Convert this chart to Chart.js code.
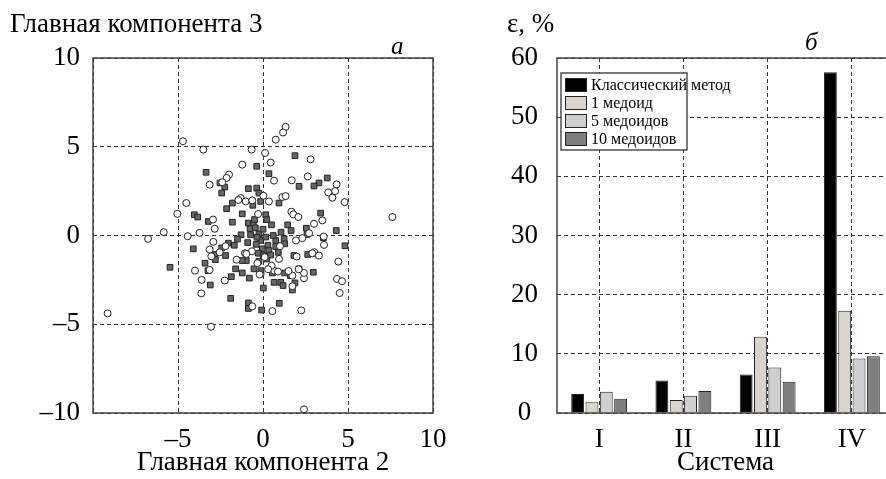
<!DOCTYPE html>
<html>
<head>
<meta charset="utf-8">
<script src="https://cdn.jsdelivr.net/npm/chart.js@4.4.0/dist/chart.umd.min.js"></script>
<style>
	body { margin: 0; background: #fff; width: 886px; height: 479px; position: relative; overflow: hidden; font-family: "Liberation Serif", serif; }
	canvas { position: absolute; top: 0; }
	.lbl { position: absolute; font-size: 27px; line-height: 25px; white-space: nowrap; color: #000; }
	.it { font-style: italic; font-size: 25px; }
</style>
</head>
<body>
<canvas id="scatter" width="450" height="479" style="left:0"></canvas>
<canvas id="bars" width="445" height="479" style="left:450px"></canvas>
<div class="lbl" style="left:10px;top:11px">Главная компонента 3</div>
<div class="lbl it" style="left:391px;top:33px">а</div>
<div class="lbl" style="left:507px;top:11px">ε, %</div>
<div class="lbl it" style="left:805px;top:29px">б</div>
<script>
// ================ data ================
// panel a: principal components 2 (x) and 3 (y)
const openPoints = [
	[1.33, 6.12], [1.18, 5.8], [0.75, 5.4], [-4.71, 5.31], [-3.51, 4.84], [-0.67, 4.84], [0.12, 4.65],
	[2.8, 4.29], [0.45, 4.11], [-1.22, 3.99], [-2.0, 3.43], [-2.14, 3.24], [-3.14, 2.86], [0.65, 3.09],
	[1.69, 3.11], [2.63, 3.33], [4.33, 2.88], [4.24, 2.5], [3.84, 2.43], [4.08, 2.13], [4.8, 1.88],
	[-1.31, 2.11], [-1.02, 1.92], [-0.63, 1.98], [0.02, 2.24], [0.35, 1.92], [1.14, 2.17], [1.33, 2.22],
	[-4.51, 1.83], [-5.04, 1.22], [-0.29, 1.21], [1.67, 1.34], [1.78, 1.19], [2.08, 1.04], [3.49, 0.85],
	[3.0, 0.66], [7.61, 1.04], [-2.94, 0.9], [-2.84, 0.38], [-3.73, 0.15], [-5.84, 0.19], [-4.43, -0.04],
	[-6.76, -0.19], [-2.92, -0.36], [-3.14, -0.79], [-2.2, -0.6], [-1.06, -1.0], [-1.55, -1.36], [-0.65, -0.89],
	[1.94, -0.28], [2.31, -0.15], [2.71, 0.13], [3.57, -0.06], [3.59, -0.53], [3.02, -0.94], [3.29, -1.13],
	[1.98, -1.19], [0.94, -1.32], [0.1, -1.22], [4.43, -1.47], [-4.0, -1.98], [-3.14, -1.94], [-3.61, -2.5],
	[-2.25, -2.54], [-3.63, -3.26], [-0.14, -2.17], [0.65, -1.98], [0.88, -2.03], [1.73, -2.26], [2.41, -2.41],
	[2.41, -2.11], [4.35, -2.45], [4.65, -2.58], [4.51, -3.24], [1.73, -2.86], [-0.63, -3.99], [0.55, -4.26],
	[2.25, -4.22], [-9.14, -4.39], [-3.06, -5.14], [2.41, -9.79], [-0.33, -1.56], [-3.04, -1.17], [-0.98, -1.04],
	[1.0, -0.6], [0.5, -1.7], [-2.4, 3.0], [2.1, -1.9], [-1.45, 2.0], [1.5, -2.0], [0.3, -1.9],
	[-0.2, -2.2], [2.9, -1.0], [-2.55, -0.95],
];
const filledPoints = [
	[1.88, 4.5], [-0.37, 3.9], [-3.35, 3.56], [0.35, 3.48], [-2.53, 2.96], [-2.25, 2.73], [-2.43, 2.39],
	[3.78, 3.24], [3.29, 2.96], [3.0, 2.79], [2.12, 2.77], [-0.86, 2.64], [-0.37, 2.67], [-0.24, 2.39],
	[-1.8, 1.83], [-2.14, 1.51], [-0.14, 1.92], [0.94, 1.83], [-1.22, 1.22], [0.16, 1.17], [0.22, 0.89],
	[-1.8, 0.75], [-4.04, 1.17], [-3.84, 1.04], [-3.22, 0.79], [-0.86, 0.7], [-0.57, 0.66], [-0.76, 0.38],
	[-0.45, 0.43], [3.39, 1.26], [2.55, 0.41], [2.59, 0.06], [1.65, 0.28], [1.06, 0.19], [4.31, 0.28],
	[3.55, -0.13], [4.82, -0.58], [-1.29, 0.04], [-0.73, 0.04], [-0.24, 0.09], [-0.14, -0.28], [0.16, -0.09],
	[0.75, -0.28], [1.24, -0.19], [1.27, -0.47], [0.29, -0.55], [-0.04, -0.75], [0.35, -0.85], [0.75, -0.62],
	[-2.04, -0.43], [-1.69, -0.55], [-2.43, -0.7], [-4.1, -0.75], [-2.84, -1.07], [-2.8, -1.36], [-2.2, -1.13],
	[-0.27, -1.0], [0.02, -1.13], [-0.24, -1.45], [0.22, -1.32], [-0.98, -1.41], [-1.22, -1.41], [-0.53, -1.88],
	[-0.12, -1.98], [-1.61, -1.88], [-1.22, -2.11], [-1.86, -2.32], [-3.41, -1.56], [-3.24, -1.98], [-5.47, -1.79],
	[-3.1, -2.79], [0.55, -2.11], [1.27, -2.11], [1.61, -2.26], [2.12, -1.88], [2.96, -2.07], [1.82, -1.13],
	[2.63, -1.07], [0.65, -2.64], [1.04, -2.64], [1.18, -2.82], [1.88, -2.67], [1.73, -3.07], [0.02, -2.96],
	[-1.9, -3.54], [-0.86, -3.8], [-0.86, -4.11], [-0.08, -4.2], [0.96, -3.82], [-0.5, 0.9], [0.5, 0.6],
	[-0.9, -0.4], [0.6, 0.0], [-0.4, -0.5], [0.45, -1.1], [-0.6, 1.7], [0.0, 0.35], [-0.35, -0.1],
	[0.9, -0.95], [-1.5, -0.2], [1.45, 0.6], [-0.8, -2.4],
];
const pcTicks = [-10, -5, 0, 5, 10];

// panel б: error per system
const systems = ["I", "II", "III", "IV"];
const classicErr = [3.2, 5.5, 6.5, 57.6];
const medoid1Err = [1.8, 2.2, 12.9, 17.3];
const medoid5Err = [3.6, 2.9, 7.7, 9.2];
const medoid10Err = [2.4, 3.7, 5.3, 9.6];
const errTicks = [0, 10, 20, 30, 40, 50, 60];

// ================ shared styles ================
const FONT = { family: "'Liberation Serif', serif", size: 27 };
const GRID = { color: "#333", lineWidth: 1, drawTicks: false };
const DASHED = { display: false, dash: [4, 3] };
Chart.defaults.color = "#000";
Chart.defaults.font.family = FONT.family;

// no extra room for overhanging tick labels, the plot box is fixed
const fixedX = (s) => { s.height = 66; s.paddingLeft = 0; s.paddingRight = 0; };

const framePlugin = {
	id: "frame",
	afterDatasetsDraw(chart) {
		const { ctx, chartArea: a } = chart;
		ctx.save();
		ctx.strokeStyle = "#444";
		ctx.lineWidth = 1.5;
		ctx.strokeRect(a.left, a.top, a.right - a.left, a.bottom - a.top);
		ctx.restore();
	},
};

// legend in a boxed panel inside the plot, as in the figure
const boxLegend = {
	id: "boxLegend",
	afterDraw(chart) {
		const { ctx, chartArea: a } = chart;
		const x0 = a.left + 4, y0 = a.top + 15, w = 126, h = 77, row = 18;
		ctx.save();
		ctx.fillStyle = "#fff";
		ctx.fillRect(x0, y0, w, h);
		ctx.font = "16px 'Liberation Serif'";
		ctx.textBaseline = "middle";
		chart.data.datasets.forEach((ds, i) => {
			const cy = y0 + 12 + i * row;
			ctx.fillStyle = ds.backgroundColor;
			ctx.fillRect(x0 + 4, cy - 7, 22, 14);
			ctx.strokeStyle = "#222";
			ctx.lineWidth = 1;
			ctx.strokeRect(x0 + 4.5, cy - 6.5, 21, 13);
			ctx.fillStyle = "#000";
			ctx.fillText(ds.label, x0 + 30, cy + 1);
		});
		ctx.strokeStyle = "#222";
		ctx.lineWidth = 1.2;
		ctx.strokeRect(x0, y0, w, h);
		ctx.restore();
	},
};

const minus = (v) => String(v).replace("-", "\u2013");
const toXY = (p) => ({ x: p[0], y: p[1] });

// ================ panel а: scatter ================
new Chart(document.getElementById("scatter"), {
	type: "scatter",
	data: {
		datasets: [
			{
				label: "open",
				data: openPoints.map(toXY),
				pointStyle: "circle",
				pointRadius: 3.5,
				backgroundColor: "#fff",
				borderColor: "#222",
				borderWidth: 1,
			},
			{
				label: "filled",
				data: filledPoints.map(toXY),
				pointStyle: "rect",
				pointRadius: 4,
				backgroundColor: "#666",
				borderColor: "#222",
				borderWidth: 1,
			},
		],
	},
	options: {
		responsive: false,
		devicePixelRatio: 1,
		animation: false,
		layout: { padding: { top: 58, right: 17, left: 0, bottom: 0 } },
		plugins: { legend: { display: false }, tooltip: { enabled: false } },
		scales: {
			x: {
				min: -10,
				max: 10,
				afterBuildTicks: (s) => { s.ticks = pcTicks.map((v) => ({ value: v })); },
				afterFit: fixedX,
				grid: GRID,
				border: DASHED,
				ticks: {
					font: FONT,
					padding: 11,
					callback: (v) => (v === -10 ? "" : minus(v)),
				},
				title: { display: true, text: "Главная компонента 2", font: FONT, padding: { top: 0, bottom: 0 } },
			},
			y: {
				min: -10,
				max: 10,
				afterBuildTicks: (s) => { s.ticks = pcTicks.map((v) => ({ value: v })); },
				afterFit: (s) => { s.width = 93; },
				grid: GRID,
				border: DASHED,
				ticks: { font: FONT, padding: 13, callback: (v) => minus(v) },
			},
		},
	},
	plugins: [framePlugin],
});

// ================ panel б: bars ================
// the plot runs past the right edge of the figure, as in the original crop
new Chart(document.getElementById("bars"), {
	type: "bar",
	data: {
		labels: systems,
		datasets: [
			{ label: "Классический метод", data: classicErr, backgroundColor: "#000" },
			{ label: "1 медоид", data: medoid1Err, backgroundColor: "#d9d5cd" },
			{ label: "5 медоидов", data: medoid5Err, backgroundColor: "#cfcfcf" },
			{ label: "10 медоидов", data: medoid10Err, backgroundColor: "#7f7f7f" },
		],
	},
	options: {
		responsive: false,
		devicePixelRatio: 1,
		animation: false,
		layout: { padding: { top: 58, right: 1, left: 0, bottom: 0 } },
		datasets: {
			bar: { borderColor: "#222", borderWidth: 1, categoryPercentage: 0.68, barPercentage: 0.9 },
		},
		plugins: { legend: { display: false }, tooltip: { enabled: false } },
		scales: {
			x: {
				afterFit: fixedX,
				grid: { ...GRID, offset: false },
				border: DASHED,
				ticks: { font: FONT, padding: 11 },
				title: { display: true, text: "Система", font: FONT, padding: { top: 0, bottom: 0 } },
			},
			y: {
				min: 0,
				max: 60,
				afterBuildTicks: (s) => { s.ticks = errTicks.map((v) => ({ value: v })); },
				afterFit: (s) => { s.width = 107; },
				grid: GRID,
				border: DASHED,
				ticks: { font: FONT, padding: 19, crossAlign: "center" },
			},
		},
	},
	plugins: [framePlugin, boxLegend],
});
</script>
</body>
</html>
